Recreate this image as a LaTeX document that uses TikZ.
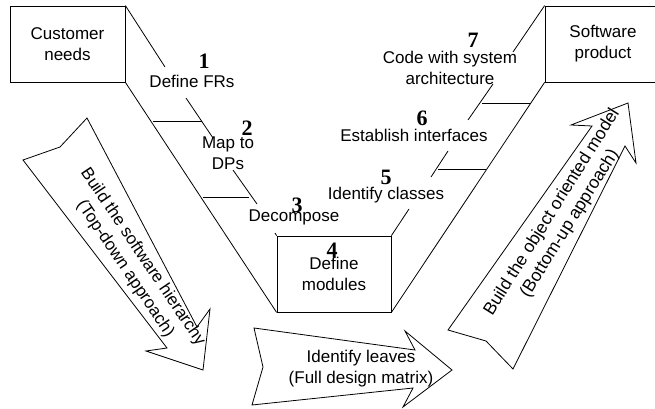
\documentclass[tikz,border=0pt]{standalone}
\usepackage{fontspec}
\setmainfont{Liberation Sans}
\newfontfamily\digitfont{Liberation Serif}
\tikzset{
  lbl/.style={inner sep=0pt,align=center,font=\fontsize{17}{21}\selectfont},
  num/.style={inner sep=0pt,font=\digitfont\bfseries\fontsize{22}{22}\selectfont},
  boxn/.style={draw=black,line width=0.8pt,inner sep=0pt,align=center,font=\fontsize{17}{21}\selectfont,minimum height=76pt},
  conn/.style={draw=black,line width=0.8pt},
  bigarrow/.style={draw=black,line width=0.8pt,line join=miter}
}
\begin{document}
\begin{tikzpicture}[x=1pt,y=-1pt]
\useasboundingbox (0,0) rectangle (655,409);
\clip (0,0) rectangle (655,409);
% boxes
\node[boxn,minimum width=115pt] (cust) at (67.5,44) {Customer\\needs};
\node[boxn,minimum width=114pt] (mod) at (334,274) {Define\\modules};
\node[boxn,minimum width=116pt] (soft) at (603,44) {Software\\product};
% free ends of connectors
\coordinate (a1) at (165,67);
\coordinate (a2) at (186,98);
\coordinate (a3) at (213,138);
\coordinate (a4) at (233,170);
\coordinate (a5) at (257,204);
\coordinate (a6) at (275,233);
\coordinate (h1a) at (153,121);
\coordinate (h1b) at (202,121);
\coordinate (h2a) at (203,197);
\coordinate (h2b) at (249,197);
\coordinate (b1) at (409,209);
\coordinate (b2) at (431,177);
\coordinate (b3) at (448,151);
\coordinate (b4) at (468,120);
\coordinate (b5) at (493,84);
\coordinate (b6) at (513,52);
\coordinate (h3a) at (438,169);
\coordinate (h3b) at (486,169);
\coordinate (h4a) at (482,103);
\coordinate (h4b) at (530,103);
% connectors
\draw[conn] (cust.north east) -- (a1);
\draw[conn] (a2) -- (a3);
\draw[conn] (a4) -- (a5);
\draw[conn] (a6) -- (mod.north west);
\draw[conn] (cust.south east) -- (mod.south west);
\draw[conn] (h1a) -- (h1b);
\draw[conn] (h2a) -- (h2b);
\draw[conn] (mod.north east) -- (b1);
\draw[conn] (b2) -- (b3);
\draw[conn] (b4) -- (b5);
\draw[conn] (b6) -- (soft.north west);
\draw[conn] (mod.south east) -- (soft.south west);
\draw[conn] (h3a) -- (h3b);
\draw[conn] (h4a) -- (h4b);
% block arrows
\draw[bigarrow] (87,118) -- (60,147) -- (23,160) -- (167,348) -- (146,351) -- (203,370) -- (210,309) -- (197,327) -- cycle;
\draw[bigarrow] (254,328) -- (263,367) -- (252,405) -- (413,388) -- (403,407) -- (452,370) -- (405,331) -- (415,350) -- cycle;
\draw[bigarrow] (448,330) -- (486,341) -- (513,369) -- (625,146) -- (636,163) -- (628,103) -- (571,125) -- (592,126) -- cycle;
% labels
\node[lbl] (l1) at (192,81) {Define FRs};
\node[lbl] (l2) at (228,153.5) {Map to\\DPs};
\node[lbl] (l3) at (294,217) {Decompose};
\node[lbl] (l5) at (386,195) {Identify classes};
\node[lbl] (l6) at (414,135) {Establish interfaces};
\node[lbl] (l7) at (450,67.5) {Code with system\\architecture};
\node[num] (n1) at (204,61) {1};
\node[num] (n2) at (247,128) {2};
\node[num] (n3) at (297,205) {3};
\node[num] (n4) at (332,250) {4};
\node[num] (n5) at (386,177) {5};
\node[num] (n6) at (422,118) {6};
\node[num] (n7) at (473,40) {7};
\node[lbl,rotate=-56] (t1) at (134,263) {Build the software hierarchy\\(Top-down approach)};
\node[lbl] (t2) at (361,368.5) {Identify leaves\\(Full design matrix)};
\node[lbl,rotate=58,font=\fontsize{17.5}{21}\selectfont] (t3) at (561,218) {Build the object oriented model\\(Bottom-up approach)};
\end{tikzpicture}
\end{document}
